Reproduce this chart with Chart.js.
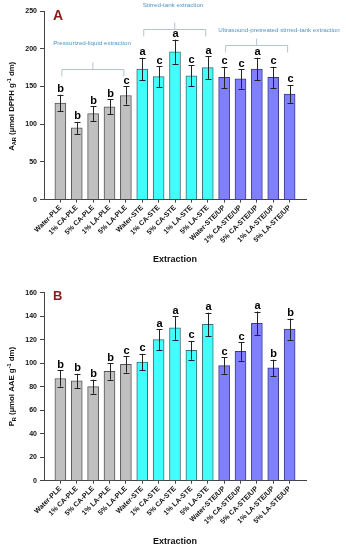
<!DOCTYPE html>
<html>
<head>
<meta charset="utf-8">
<script src="https://cdn.jsdelivr.net/npm/chart.js@4.4.1/dist/chart.umd.min.js"></script>
<style>
  html, body { margin:0; padding:0; background:#fff; }
  canvas { display:block; }
</style>
</head>
<body>
<canvas id="chartA" width="346" height="275"></canvas>
<canvas id="chartB" width="346" height="275"></canvas>
<script>
const categories = ['Water-PLE','1% CA-PLE','5% CA-PLE','1% LA-PLE','5% LA-PLE',
  'Water-STE','1% CA-STE','5% CA-STE','1% LA-STE','5% LA-STE',
  'Water-STE/UP','1% CA-STE/UP','5% CA-STE/UP','1% LA-STE/UP','5% LA-STE/UP'];
const groups = ['PLE','PLE','PLE','PLE','PLE','STE','STE','STE','STE','STE','UP','UP','UP','UP','UP'];

const aarValues  = [128, 95, 114, 123, 138, 173, 163, 196, 164, 175, 162, 160, 173, 162, 140];
const aarErrors  = [11, 8, 10, 10, 12, 15, 14, 16, 14, 15, 14, 13, 15, 14, 12];
const aarLetters = ['b','b','b','b','c','a','c','a','c','a','c','c','a','c','c'];
const aarTicks   = [0, 50, 100, 150, 200, 250];

const prValues  = [87, 85, 80, 93, 99, 101, 120, 130, 111, 133, 98, 110, 134, 96, 129];
const prErrors  = [7, 6, 6, 7, 7, 7, 9, 10, 8, 10, 7, 8, 10, 7, 9];
const prLetters = ['b','b','b','b','c','c','a','a','c','a','c','c','a','b','b'];
const prTicks   = [0, 20, 40, 60, 80, 100, 120, 140, 160];

const groupLabels = ['Pressurized-liquid extraction','Stirred-tank extraction','Ultrasound-pretreated stirred-tank extraction'];

const fillColors = { PLE:'#c0c0c0', STE:'#40ffff', UP:'#8080ff' };
const edgeColors = { PLE:'#555555', STE:'#3a6f70', UP:'#3a3a8a' };
const FONT = "'Liberation Sans', Arial, sans-serif";

function drawRich(ctx, parts, cx, cy) {
  const fonts = { n: "bold 7.8px " + FONT, sub: "bold 5.6px " + FONT, sup: "bold 5.6px " + FONT };
  let w = 0;
  parts.forEach(p => { ctx.font = fonts[p[1]]; w += ctx.measureText(p[0]).width; });
  ctx.save();
  ctx.translate(cx, cy);
  ctx.rotate(-Math.PI / 2);
  ctx.textBaseline = 'middle';
  ctx.textAlign = 'left';
  ctx.fillStyle = '#111';
  let x = -w / 2;
  parts.forEach(p => {
    ctx.font = fonts[p[1]];
    const dy = p[1] === 'sub' ? 2.5 : (p[1] === 'sup' ? -3 : 0);
    ctx.fillText(p[0], x, dy);
    x += ctx.measureText(p[0]).width;
  });
  ctx.restore();
}

function makePlugin(opt) {
  return {
    id: 'extras' + opt.panel,
    afterDatasetsDraw(chart) {
      const ctx = chart.ctx;
      const xs = chart.scales.x, ys = chart.scales.y;
      ctx.save();
      ctx.strokeStyle = '#222';
      ctx.lineWidth = 1;
      opt.values.forEach((v, i) => {
        const x = Math.round(xs.getPixelForValue(i)) + 0.5;
        const yT = ys.getPixelForValue(v + opt.errors[i]);
        const yB = ys.getPixelForValue(v - opt.errors[i]);
        ctx.beginPath();
        ctx.moveTo(x, yT); ctx.lineTo(x, yB);
        ctx.moveTo(x - 3, Math.round(yT) + 0.5); ctx.lineTo(x + 3, Math.round(yT) + 0.5);
        ctx.moveTo(x - 3, Math.round(yB) + 0.5); ctx.lineTo(x + 3, Math.round(yB) + 0.5);
        ctx.stroke();
        ctx.fillStyle = '#000';
        ctx.font = 'bold 11px ' + FONT;
        ctx.textAlign = 'center';
        ctx.textBaseline = 'alphabetic';
        ctx.fillText(opt.letters[i], x, yT - 2.5);
      });
      ctx.restore();
    },
    afterDraw(chart) {
      const ctx = chart.ctx;
      const xs = chart.scales.x, ys = chart.scales.y;
      ctx.save();
      ctx.fillStyle = '#8b1a1a';
      ctx.font = 'bold ' + opt.panelSize + 'px ' + FONT;
      ctx.textAlign = 'left';
      ctx.textBaseline = 'alphabetic';
      ctx.fillText(opt.panel, 53, opt.panelY);
      ctx.fillStyle = '#111';
      ctx.font = 'bold 9px ' + FONT;
      ctx.textAlign = 'center';
      ctx.textBaseline = 'middle';
      ctx.fillText('Extraction', (xs.left + xs.right) / 2, opt.xTitleY);
      ctx.restore();
      drawRich(ctx, opt.yTitle, 12, (ys.top + ys.bottom) / 2 + opt.yTitleShift);
      if (opt.brackets) {
        ctx.save();
        opt.brackets.forEach(b => {
          const x1 = xs.getPixelForValue(b.from) + 1.5;
          const x2 = xs.getPixelForValue(b.to) - 2;
          const y = Math.round(ys.getPixelForValue(b.y)) + 0.5;
          const mx = (x1 + x2) / 2;
          ctx.strokeStyle = '#b4c4d0';
          ctx.lineWidth = 1;
          ctx.beginPath();
          ctx.moveTo(x1, y + 7); ctx.lineTo(x1, y); ctx.lineTo(x2, y); ctx.lineTo(x2, y + 7);
          ctx.moveTo(mx, y); ctx.lineTo(mx, y - 7);
          ctx.stroke();
          ctx.fillStyle = '#4f93c4';
          ctx.font = '6.2px ' + FONT;
          ctx.textAlign = 'center';
          ctx.textBaseline = 'middle';
          ctx.fillText(b.label, b.textX, ys.getPixelForValue(b.textY));
        });
        ctx.restore();
      }
    }
  };
}

function makeChart(id, o) {
  const ctx = document.getElementById(id).getContext('2d');
  return new Chart(ctx, {
    type: 'bar',
    data: {
      datasets: [{
        data: o.values.map((v, i) => ({ x: i, y: v })),
        backgroundColor: groups.map(g => fillColors[g]),
        borderColor: groups.map(g => edgeColors[g]),
        borderWidth: 1,
        barThickness: 11
      }]
    },
    options: {
      responsive: false,
      animation: false,
      layout: { padding: { left: 0, right: 40, top: o.padTop, bottom: 0 } },
      plugins: { legend: { display: false }, tooltip: { enabled: false } },
      scales: {
        x: {
          type: 'linear', min: -1, max: 15, offset: false,
          grid: { display: true, offset: false, drawOnChartArea: false, drawTicks: true, tickLength: 3, color: '#444' },
          border: { display: true, color: '#444', width: 1 },
          afterBuildTicks: s => { s.ticks = categories.map((c, i) => ({ value: i })); },
          afterFit: s => { s.height = o.xHeight; },
          ticks: {
            autoSkip: false, minRotation: 45, maxRotation: 45, padding: 1,
            color: '#111', font: { family: FONT, size: 7, weight: 'bold' },
            callback: v => categories[v]
          }
        },
        y: {
          min: 0, max: o.ticks[o.ticks.length - 1],
          afterBuildTicks: s => { s.ticks = o.ticks.map(t => ({ value: t })); },
          afterFit: s => { s.width = 44; },
          grid: { display: true, drawOnChartArea: false, drawTicks: true, tickLength: 4, color: '#444' },
          border: { display: true, color: '#444', width: 1 },
          ticks: { padding: 3, color: '#111', font: { family: FONT, size: 7, weight: 'bold' } }
        }
      }
    },
    plugins: [makePlugin(o)]
  });
}

makeChart('chartA', {
  panel: 'A', panelSize: 14, panelY: 20,
  values: aarValues, errors: aarErrors, letters: aarLetters, ticks: aarTicks,
  padTop: 11, xHeight: 75.4, xTitleY: 260,
  yTitle: [['A','n'],['AR','sub'],[' (µmol DPPH g','n'],['-1','sup'],[' dm)','n']],
  yTitleShift: 1,
  brackets: [
    { from: 0, to: 4, y: 173, label: groupLabels[0], textX: 92, textY: 207 },
    { from: 5, to: 9, y: 226, label: groupLabels[1], textX: 173, textY: 258 },
    { from: 10, to: 14, y: 205, label: groupLabels[2], textX: 279, textY: 224 }
  ]
});

makeChart('chartB', {
  panel: 'B', panelSize: 13, panelY: 25,
  values: prValues, errors: prErrors, letters: prLetters, ticks: prTicks,
  padTop: 17.7, xHeight: 69.3, xTitleY: 266.7,
  yTitle: [['P','n'],['R','sub'],[' (µmol AAE g','n'],['-1','sup'],[' dm)','n']],
  yTitleShift: 0
});
</script>
</body>
</html>
